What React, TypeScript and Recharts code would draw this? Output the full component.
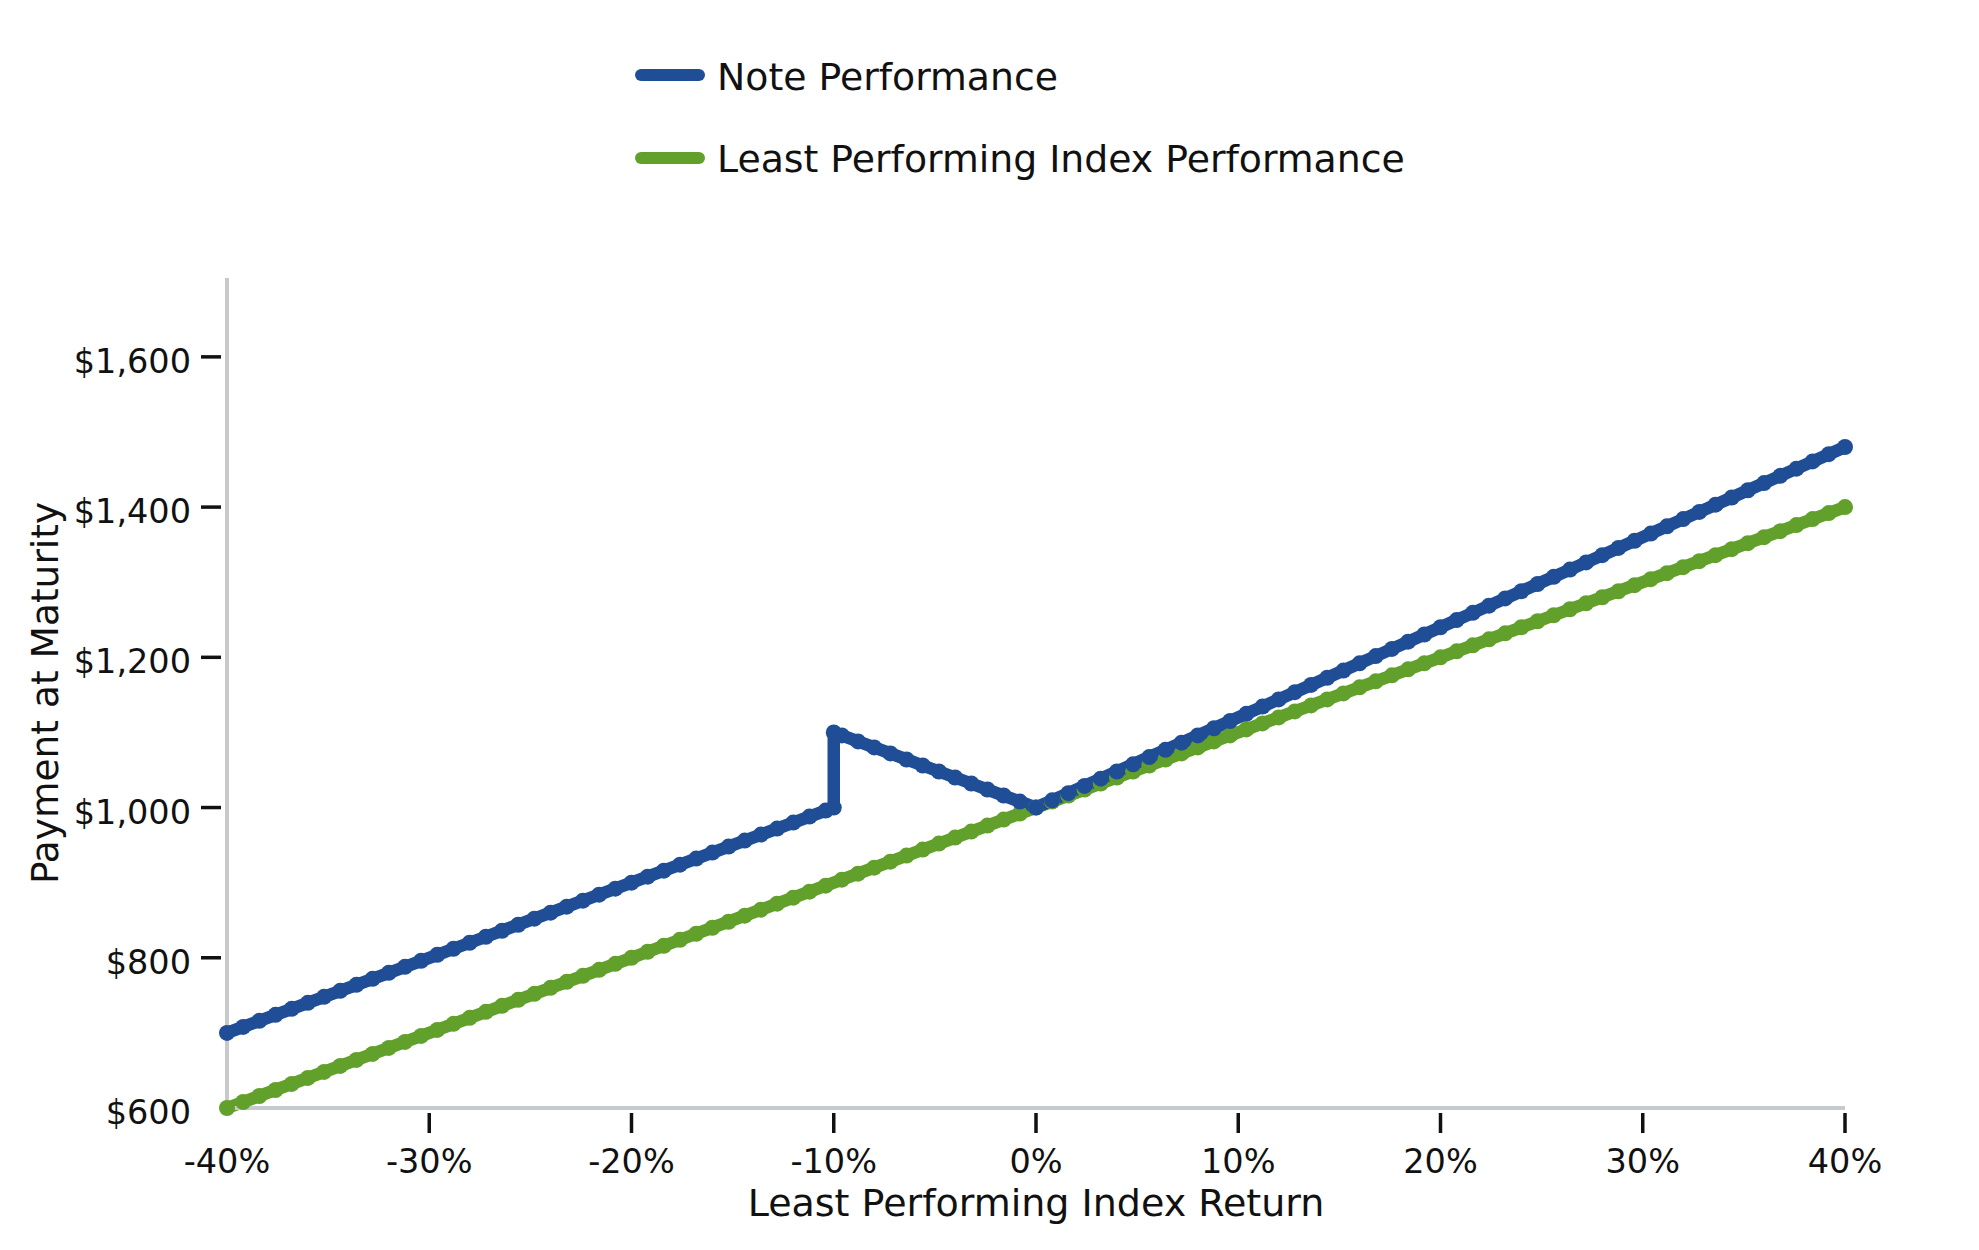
// Payoff diagram: note payment at maturity vs. the least performing index return.
// Note and index share the same return grid; the note has an extra pair of points
// at -10% for the jump (buffer / absolute return feature).
import { Legend, Line, LineChart, XAxis, YAxis } from "recharts"

const returns = [
  -40, -39.2, -38.4, -37.6, -36.8, -36, -35.2, -34.4, -33.6, -32.8,
  -32, -31.2, -30.4, -29.6, -28.8, -28, -27.2, -26.4, -25.6, -24.8,
  -24, -23.2, -22.4, -21.6, -20.8, -20, -19.2, -18.4, -17.6, -16.8,
  -16, -15.2, -14.4, -13.6, -12.8, -12, -11.2, -10.4, -9.6, -8.8,
  -8, -7.2, -6.4, -5.6, -4.8, -4, -3.2, -2.4, -1.6, -0.8,
  0, 0.8, 1.6, 2.4, 3.2, 4, 4.8, 5.6, 6.4, 7.2,
  8, 8.8, 9.6, 10.4, 11.2, 12, 12.8, 13.6, 14.4, 15.2,
  16, 16.8, 17.6, 18.4, 19.2, 20, 20.8, 21.6, 22.4, 23.2,
  24, 24.8, 25.6, 26.4, 27.2, 28, 28.8, 29.6, 30.4, 31.2,
  32, 32.8, 33.6, 34.4, 35.2, 36, 36.8, 37.6, 38.4, 39.2,
  40,
]

const indexValues = [
  600, 608, 616, 624, 632, 640, 648, 656, 664, 672,
  680, 688, 696, 704, 712, 720, 728, 736, 744, 752,
  760, 768, 776, 784, 792, 800, 808, 816, 824, 832,
  840, 848, 856, 864, 872, 880, 888, 896, 904, 912,
  920, 928, 936, 944, 952, 960, 968, 976, 984, 992,
  1000, 1008, 1016, 1024, 1032, 1040, 1048, 1056, 1064, 1072,
  1080, 1088, 1096, 1104, 1112, 1120, 1128, 1136, 1144, 1152,
  1160, 1168, 1176, 1184, 1192, 1200, 1208, 1216, 1224, 1232,
  1240, 1248, 1256, 1264, 1272, 1280, 1288, 1296, 1304, 1312,
  1320, 1328, 1336, 1344, 1352, 1360, 1368, 1376, 1384, 1392,
  1400,
]

// jump at -10%: two points on the same return
const jumpReturns = [-10, -10]

const noteValues = [
  700, 708, 716, 724, 732, 740, 748, 756, 764, 772,
  780, 788, 796, 804, 812, 820, 828, 836, 844, 852,
  860, 868, 876, 884, 892, 900, 908, 916, 924, 932,
  940, 948, 956, 964, 972, 980, 988, 996,
  1000, 1100,
  1096, 1088, 1080, 1072, 1064, 1056, 1048, 1040, 1032, 1024, 1016, 1008, 1000,
  1009.6, 1019.2, 1028.8, 1038.4, 1048, 1057.6, 1067.2, 1076.8, 1086.4, 1096,
  1105.6, 1115.2, 1124.8, 1134.4, 1144, 1153.6, 1163.2, 1172.8, 1182.4, 1192,
  1201.6, 1211.2, 1220.8, 1230.4, 1240, 1249.6, 1259.2, 1268.8, 1278.4, 1288,
  1297.6, 1307.2, 1316.8, 1326.4, 1336, 1345.6, 1355.2, 1364.8, 1374.4, 1384,
  1393.6, 1403.2, 1412.8, 1422.4, 1432, 1441.6, 1451.2, 1460.8, 1470.4, 1480,
]

const xTicks = [-40, -30, -20, -10, 0, 10, 20, 30, 40]
const yTicks = [600, 800, 1000, 1200, 1400, 1600]

const NOTE_NAME = "Note Performance"
const INDEX_NAME = "Least Performing Index Performance"
const X_TITLE = "Least Performing Index Return"
const Y_TITLE = "Payment at Maturity"

const NOTE_BLUE = "#1f4e96"
const INDEX_GREEN = "#62a02c"
const AXIS_GRAY = "#c6cacf"
const INK = "#111"
const FONT = "'DejaVu Sans', sans-serif"

const noteReturns = [...returns.slice(0, 38), ...jumpReturns, ...returns.slice(38)]
const noteData = noteReturns.map((r, i) => ({ r, v: noteValues[i] }))
const indexData = returns.map((r, i) => ({ r, v: indexValues[i] }))

const fmtDollar = (v: number) => `$${v.toLocaleString("en-US")}`

function XTick({ x, y, payload }: any) {
  const first = payload.value === xTicks[0]
  return (
    <g>
      {!first && <line x1={x} x2={x} y1={y + 5} y2={y + 25} stroke={INK} strokeWidth={3.5} />}
      <text x={x} y={y + 65} textAnchor="middle" fontSize={33.5} fill={INK} fontFamily={FONT}>
        {`${payload.value}%`}
      </text>
    </g>
  )
}

function YTick({ x, y, payload }: any) {
  const first = payload.value === yTicks[0]
  return (
    <g>
      {!first && <line x1={x - 26} x2={x - 6} y1={y} y2={y} stroke={INK} strokeWidth={3.5} />}
      <text x={x - 36} y={y + 16} textAnchor="end" fontSize={33.5} fill={INK} fontFamily={FONT}>
        {fmtDollar(payload.value)}
      </text>
    </g>
  )
}

function XTitle({ viewBox }: any) {
  return (
    <text x={viewBox.x + viewBox.width / 2} y={viewBox.y + 108} textAnchor="middle" fontSize={38} fill={INK} fontFamily={FONT}>
      {X_TITLE}
    </text>
  )
}

function YTitle({ viewBox }: any) {
  const tx = viewBox.x - 69
  const ty = viewBox.y + viewBox.height / 2
  return (
    <text x={tx} y={ty} transform={`rotate(-90, ${tx}, ${ty})`} textAnchor="middle" fontSize={37.5} fill={INK} fontFamily={FONT}>
      {Y_TITLE}
    </text>
  )
}

function LegendRows() {
  const rows = [
    { name: NOTE_NAME, color: NOTE_BLUE, lineY: 75, textY: 90 },
    { name: INDEX_NAME, color: INDEX_GREEN, lineY: 158, textY: 172 },
  ]
  return (
    <svg width={1979} height={200} style={{ display: "block" }}>
      {rows.map((row) => (
        <g key={row.name}>
          <line x1={641} x2={699} y1={row.lineY} y2={row.lineY} stroke={row.color} strokeWidth={12} strokeLinecap="round" />
          <text x={717} y={row.textY} fontSize={37.8} fill={INK} fontFamily={FONT}>
            {row.name}
          </text>
        </g>
      ))}
    </svg>
  )
}

export default function App() {
  return (
    <>
      <style>{"body{margin:0;background:#fff}"}</style>
      <LineChart width={1979} height={1250} margin={{ top: 278, right: 134, left: 127, bottom: 82 }}>
        <XAxis
          type="number"
          dataKey="r"
          domain={[-40, 40]}
          ticks={xTicks}
          interval={0}
          height={60}
          tickSize={0}
          tickMargin={0}
          tickLine={false}
          axisLine={{ stroke: AXIS_GRAY, strokeWidth: 4 }}
          tick={<XTick />}
          label={{ content: XTitle }}
        />
        <YAxis
          type="number"
          dataKey="v"
          domain={[600, 1705]}
          ticks={yTicks}
          interval={0}
          width={100}
          tickSize={0}
          tickMargin={0}
          tickLine={false}
          axisLine={{ stroke: AXIS_GRAY, strokeWidth: 4 }}
          tick={<YTick />}
          label={{ content: YTitle }}
        />
        <Legend
          layout="vertical"
          align="center"
          verticalAlign="middle"
          wrapperStyle={{ left: 0, top: 0, width: 1979, height: 200 }}
          content={() => <LegendRows />}
        />
        <Line
          data={indexData}
          dataKey="v"
          name={INDEX_NAME}
          type="linear"
          stroke={INDEX_GREEN}
          strokeWidth={12.5}
          strokeLinejoin="round"
          dot={{ r: 8, fill: INDEX_GREEN, stroke: "none" }}
          activeDot={false}
          isAnimationActive={false}
        />
        <Line
          data={noteData}
          dataKey="v"
          name={NOTE_NAME}
          type="linear"
          stroke={NOTE_BLUE}
          strokeWidth={12.5}
          strokeLinejoin="round"
          dot={{ r: 8, fill: NOTE_BLUE, stroke: "none" }}
          activeDot={false}
          isAnimationActive={false}
        />
      </LineChart>
    </>
  )
}
